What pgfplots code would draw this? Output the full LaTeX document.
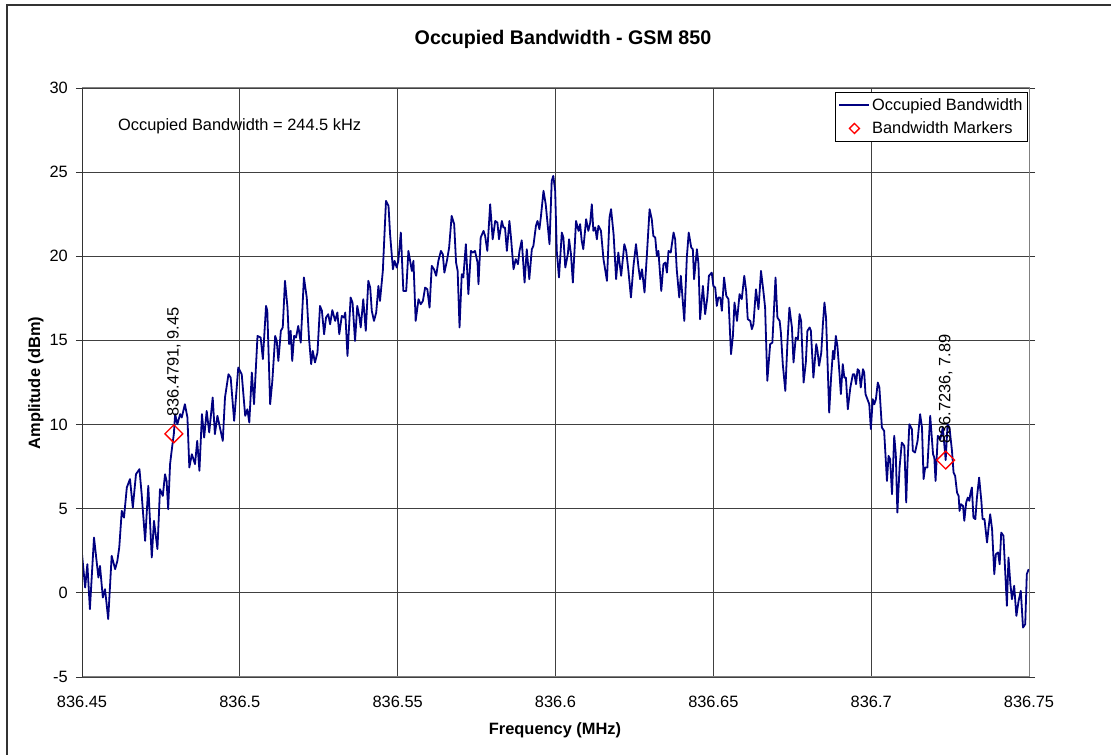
\documentclass[border=0pt]{standalone}
\usepackage{pgfplots}
\pgfplotsset{compat=1.18}
\usepackage{fontspec}
\setmainfont{Liberation Sans}
\definecolor{navy}{RGB}{0,0,128}
\newcommand{\tickfont}{\fontsize{16.4bp}{19bp}\selectfont}
\newcommand{\titlefont}{\fontsize{19.7bp}{23bp}\selectfont\bfseries}
\begin{document}
\begin{tikzpicture}
\useasboundingbox (0bp,0bp) rectangle (1111bp,755bp);
% chart area border (only left/top visible)
\draw[black!80, line width=1.5bp] (7bp,0bp) -- (7bp,750bp) -- (1111bp,750bp);
\begin{axis}[
    at={(82bp,78bp)}, anchor=south west,
    scale only axis,
    width=947bp, height=589bp,
    xmin=0, xmax=300,
    ymin=-5, ymax=30,
    % x = offset from 836.45 MHz in kHz
    xtick={0,50,100,150,200,250,300},
    xticklabels={836.45,836.5,836.55,836.6,836.65,836.7,836.75},
    ytick={-5,0,5,10,15,20,25,30},
    tick align=outside,
    major tick length=6bp,
    xtick style={draw=none},
    ytick style={black!80, line width=0.8bp},
    grid=major,
    grid style={black!75, line width=0.8bp},
    axis line style={draw=gray, line width=1bp},
    ticklabel style={font=\tickfont},
    /pgf/number format/assume math mode=true,
    xticklabel style={anchor=north, inner sep=0pt, yshift=-13bp},
    yticklabel style={anchor=east, inner sep=0pt, xshift=-8bp},
    legend style={at={(1,1)}, anchor=north east, xshift=-1bp, yshift=-4bp,
        draw=black, line width=0.8bp, font=\tickfont,
        inner xsep=3bp, inner ysep=4bp, row sep=6bp,
        nodes={inner sep=2bp}},
    legend cell align=left,
]
\addplot[navy, line width=1.8bp, line join=round,
    legend image code/.code={\draw[navy, line width=1.5bp] (0bp,0bp) -- (30bp,0bp);}]
table[row sep=\\] {
x y\\
0.0 2.30\\ 1.0 0.32\\ 1.7 1.70\\ 2.5 -0.97\\ 3.8 3.29\\ 5.2 0.91\\ 5.7 1.60\\ 6.6 -0.28\\
7.3 0.22\\ 8.3 -1.56\\ 9.4 2.20\\ 10.5 1.41\\ 11.2 1.90\\ 11.8 2.69\\ 12.6 4.87\\ 13.3 4.47\\
14.2 6.26\\ 15.2 6.76\\ 16.1 5.07\\ 17.1 7.05\\ 18.2 7.35\\ 18.9 5.86\\ 20.0 3.09\\ 21.0 6.36\\
22.1 2.10\\ 22.8 4.28\\ 23.9 2.60\\ 24.7 6.16\\ 25.6 5.76\\ 26.3 7.05\\ 26.8 6.65\\ 27.3 4.97\\
27.9 7.65\\ 28.4 8.44\\ 29.1 9.45\\ 29.5 10.62\\ 30.2 10.02\\ 31.1 10.62\\ 31.6 10.42\\ 32.6 11.21\\
33.4 10.42\\ 34.0 7.45\\ 34.8 8.24\\ 35.8 7.65\\ 36.5 9.03\\ 37.2 7.25\\ 38.0 10.62\\ 38.7 9.23\\
39.5 10.81\\ 40.3 9.53\\ 41.4 11.61\\ 42.1 9.43\\ 42.9 10.52\\ 43.7 9.82\\ 44.6 9.03\\ 45.3 11.61\\
46.4 12.99\\ 47.1 12.79\\ 48.2 10.22\\ 49.5 13.39\\ 50.6 12.99\\ 51.7 10.52\\ 52.4 10.91\\ 53.0 10.12\\
53.8 13.09\\ 54.5 11.21\\ 55.6 15.27\\ 56.6 15.17\\ 57.3 13.89\\ 58.3 17.05\\ 58.7 16.76\\ 59.6 11.21\\
60.3 12.60\\ 61.2 15.27\\ 61.7 14.97\\ 62.2 13.78\\ 63.0 15.57\\ 63.6 15.77\\ 64.3 18.54\\ 65.1 16.95\\
65.6 14.78\\ 66.1 15.57\\ 66.6 13.78\\ 67.2 15.27\\ 67.8 15.17\\ 68.5 15.86\\ 69.3 14.87\\ 70.3 18.74\\
71.2 17.55\\ 71.9 15.17\\ 72.6 13.59\\ 73.1 14.38\\ 73.8 13.69\\ 74.6 14.28\\ 75.4 17.05\\ 76.0 16.76\\
76.7 15.37\\ 77.3 16.36\\ 78.0 16.56\\ 78.6 15.96\\ 79.3 16.80\\ 80.2 16.16\\ 80.9 16.66\\ 81.5 15.37\\
82.3 16.46\\ 83.0 16.36\\ 83.4 16.66\\ 84.1 14.08\\ 85.1 17.55\\ 85.7 17.25\\ 86.5 14.97\\ 87.2 17.05\\
87.9 16.36\\ 88.3 15.77\\ 89.1 17.45\\ 89.9 15.57\\ 90.7 18.54\\ 91.3 18.14\\ 91.8 16.76\\ 92.5 16.16\\
93.2 16.66\\ 93.9 18.24\\ 94.4 17.35\\ 95.3 19.13\\ 96.3 23.29\\ 97.1 22.99\\ 97.6 21.31\\ 98.5 19.23\\
99.0 19.73\\ 99.7 19.33\\ 100.2 19.73\\ 101.0 21.41\\ 101.8 17.94\\ 102.7 17.94\\ 103.4 20.32\\ 104.5 19.13\\
105.0 19.73\\ 105.7 16.16\\ 106.6 17.45\\ 107.3 17.15\\ 108.0 17.35\\ 108.7 18.14\\ 109.4 18.04\\ 110.1 16.95\\
110.8 19.43\\ 111.5 19.23\\ 112.2 18.84\\ 112.9 19.73\\ 113.7 20.32\\ 114.3 20.12\\ 114.8 19.03\\ 115.6 19.73\\
116.3 20.52\\ 117.1 22.40\\ 117.9 21.91\\ 118.5 19.63\\ 119.0 19.13\\ 119.6 15.77\\ 120.3 18.93\\ 120.8 18.74\\
121.6 20.72\\ 122.4 17.75\\ 123.2 20.32\\ 123.8 20.22\\ 124.5 20.32\\ 125.3 19.63\\ 125.6 18.34\\ 126.3 21.11\\
127.2 21.51\\ 127.7 21.21\\ 128.4 20.32\\ 129.3 23.09\\ 130.1 21.01\\ 130.9 22.10\\ 131.6 22.00\\ 132.1 21.01\\
133.0 22.10\\ 133.5 21.71\\ 134.0 21.71\\ 134.6 20.32\\ 135.4 22.10\\ 135.9 21.11\\ 136.7 19.23\\ 137.4 19.83\\
138.1 19.53\\ 138.6 20.32\\ 139.3 20.95\\ 140.2 18.44\\ 140.9 20.42\\ 141.7 18.64\\ 142.5 20.42\\ 143.0 20.62\\
143.8 21.81\\ 144.3 22.10\\ 144.9 21.61\\ 145.4 22.40\\ 146.2 23.89\\ 146.9 23.09\\ 147.6 21.71\\ 148.1 20.72\\
148.8 24.48\\ 149.3 24.78\\ 149.9 23.89\\ 150.4 20.32\\ 151.1 18.74\\ 152.0 21.41\\ 152.5 21.11\\ 153.1 19.33\\
153.9 20.12\\ 154.3 21.01\\ 154.9 20.12\\ 155.5 18.44\\ 156.5 22.10\\ 157.3 21.51\\ 157.8 21.91\\ 158.3 20.92\\
158.8 20.42\\ 159.7 22.20\\ 160.4 21.51\\ 161.0 22.00\\ 161.5 23.09\\ 162.0 21.51\\ 162.6 21.71\\ 163.1 21.01\\
163.6 21.81\\ 164.4 21.51\\ 165.2 19.83\\ 166.3 18.54\\ 167.1 22.30\\ 167.6 22.80\\ 168.4 21.31\\ 169.2 18.64\\
169.9 20.22\\ 170.8 18.84\\ 171.8 20.72\\ 172.4 20.32\\ 173.1 19.13\\ 173.9 17.55\\ 174.7 19.43\\ 175.5 20.72\\
176.3 19.33\\ 176.8 18.64\\ 177.4 19.23\\ 178.2 17.85\\ 178.9 19.93\\ 179.8 22.80\\ 180.5 22.20\\ 181.0 21.21\\
181.6 21.11\\ 182.1 20.02\\ 182.6 20.32\\ 183.5 17.94\\ 184.2 19.53\\ 184.8 19.63\\ 185.3 19.03\\ 185.8 20.32\\
186.5 20.22\\ 187.4 21.41\\ 187.9 21.01\\ 188.4 19.23\\ 189.2 17.55\\ 189.7 18.84\\ 190.8 16.16\\ 191.6 19.93\\
192.2 21.41\\ 193.0 20.52\\ 193.5 20.42\\ 193.9 18.64\\ 194.8 20.42\\ 195.3 19.53\\ 195.8 16.26\\ 196.7 18.24\\
197.4 16.56\\ 198.1 17.55\\ 198.6 18.84\\ 199.5 19.03\\ 200.0 18.24\\ 200.6 18.14\\ 201.1 17.05\\ 201.6 17.55\\
202.2 17.55\\ 202.7 16.76\\ 203.4 18.74\\ 204.1 17.65\\ 204.8 17.45\\ 205.6 14.18\\ 206.2 15.27\\ 206.7 17.25\\
207.5 16.16\\ 208.3 17.75\\ 209.0 17.45\\ 209.8 18.84\\ 210.4 17.94\\ 210.9 16.26\\ 211.7 16.16\\ 212.2 15.67\\
212.7 15.96\\ 213.5 18.04\\ 214.3 16.85\\ 215.1 19.13\\ 215.9 17.85\\ 216.4 16.95\\ 217.1 12.60\\ 218.0 14.78\\
218.7 14.87\\ 219.7 18.74\\ 220.3 16.36\\ 221.0 16.16\\ 221.4 15.47\\ 222.0 13.59\\ 222.8 12.00\\ 223.5 14.97\\
224.1 16.95\\ 224.9 15.77\\ 225.4 13.69\\ 226.1 15.17\\ 226.8 15.07\\ 227.3 16.56\\ 227.8 16.16\\ 228.6 12.50\\
229.3 13.69\\ 229.8 15.57\\ 230.5 15.77\\ 230.9 15.57\\ 231.7 12.79\\ 232.6 14.78\\ 233.0 14.38\\ 233.5 13.49\\
234.2 14.28\\ 234.7 15.96\\ 235.2 17.25\\ 235.7 16.36\\ 236.2 13.59\\ 236.7 10.71\\ 237.3 12.79\\ 237.9 14.38\\
238.3 13.89\\ 238.8 15.27\\ 239.3 14.68\\ 239.9 13.19\\ 240.4 11.81\\ 241.0 13.59\\ 241.5 12.79\\ 242.0 12.79\\
242.6 10.91\\ 243.4 12.20\\ 244.2 12.99\\ 244.7 12.99\\ 245.2 12.40\\ 245.7 13.29\\ 246.2 13.19\\ 246.7 12.20\\
247.4 13.29\\ 247.8 13.09\\ 248.2 11.81\\ 248.8 11.51\\ 249.4 11.21\\ 249.9 9.73\\ 250.5 11.51\\ 251.0 11.21\\
251.5 11.51\\ 252.1 12.50\\ 252.6 12.20\\ 253.4 9.82\\ 254.1 9.63\\ 255.0 6.65\\ 255.5 8.14\\ 256.0 7.94\\
256.6 5.86\\ 257.3 9.33\\ 257.8 8.24\\ 258.3 4.77\\ 259.0 7.45\\ 259.7 8.93\\ 260.5 8.73\\ 261.1 5.37\\
261.5 7.65\\ 262.1 10.02\\ 262.9 9.73\\ 263.2 8.44\\ 263.9 8.34\\ 264.7 9.03\\ 265.5 10.62\\ 266.1 9.82\\
266.6 6.76\\ 267.1 7.45\\ 267.8 7.45\\ 268.7 10.52\\ 269.6 8.24\\ 270.0 8.04\\ 270.4 6.65\\ 271.1 9.33\\
271.9 9.13\\ 272.7 9.82\\ 273.6 7.89\\ 274.2 10.02\\ 274.8 9.82\\ 275.6 8.44\\ 276.1 7.15\\ 276.6 6.95\\
277.2 5.96\\ 277.7 5.76\\ 278.0 4.87\\ 278.4 5.27\\ 279.1 5.17\\ 279.5 4.28\\ 280.1 5.37\\ 280.6 5.66\\
281.1 5.47\\ 281.4 5.86\\ 281.9 6.26\\ 282.4 4.47\\ 283.0 4.38\\ 283.5 5.66\\ 284.2 6.85\\ 284.9 5.47\\
285.3 4.38\\ 285.9 4.38\\ 286.7 2.99\\ 287.2 3.88\\ 287.7 4.67\\ 288.3 3.78\\ 289.0 1.11\\ 289.5 2.30\\
290.2 2.40\\ 290.7 1.70\\ 291.2 3.58\\ 291.9 3.39\\ 292.5 1.11\\ 293.0 -0.77\\ 293.5 2.10\\ 294.1 0.52\\
294.6 -0.38\\ 295.3 0.42\\ 296.0 -1.37\\ 296.7 -0.48\\ 297.4 0.12\\ 298.1 -2.06\\ 298.8 -1.86\\ 299.3 1.11\\
299.9 1.41\\
};
\addlegendentry{Occupied Bandwidth}
\addplot[only marks, mark=square, mark size=6.3bp,
    mark options={rotate=45, draw=red, fill=none, line width=1.3bp},
    legend image code/.code={\draw[red, line width=1.3bp] (15bp,5bp) -- (20bp,0bp) -- (15bp,-5bp) -- (10bp,0bp) -- cycle;}]
coordinates {(29.1,9.45) (273.6,7.89)};
\addlegendentry{Bandwidth Markers}
% left value axis drawn darker
\draw[black!80, line width=1bp] (rel axis cs:0,0) -- (rel axis cs:0,1);
\node[anchor=base west, inner sep=0pt, font=\tickfont] at (axis cs:11.4,27.45) {Occupied Bandwidth = 244.5 kHz};
\node[rotate=90, anchor=west, inner sep=0pt, font=\tickfont] at (axis cs:29.1,10.45) {836.4791, 9.45};
\node[rotate=90, anchor=west, inner sep=0pt, font=\tickfont] at (axis cs:273.6,8.85) {836.7236, 7.89};
\end{axis}
\node[anchor=base, inner sep=0pt, font=\titlefont] at (563bp,710bp) {Occupied Bandwidth - GSM 850};
\node[anchor=base, inner sep=0pt, font=\tickfont\bfseries] at (555bp,21bp) {Frequency (MHz)};
\node[anchor=base, rotate=90, inner sep=0pt, font=\tickfont\bfseries] at (40bp,372bp) {Amplitude (dBm)};
\end{tikzpicture}
\end{document}
